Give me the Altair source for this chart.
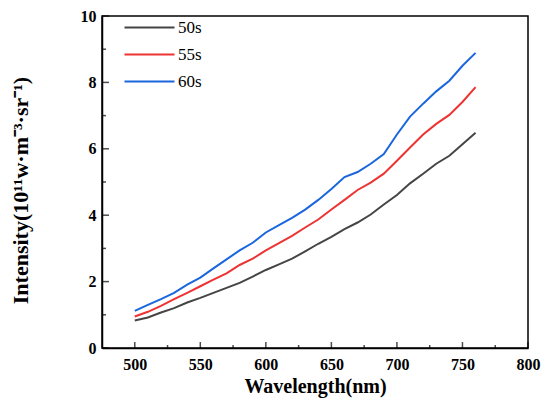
import altair as alt
import pandas as pd

wavelength = [500, 510, 520, 530, 540, 550, 560, 570, 580, 590, 600, 610, 620, 630,
              640, 650, 660, 670, 680, 690, 700, 710, 720, 730, 740, 750, 760]
s50 = [0.83, 0.92, 1.07, 1.20, 1.37, 1.51, 1.66, 1.81, 1.96, 2.15, 2.35, 2.52, 2.69, 2.91,
       3.14, 3.35, 3.58, 3.78, 4.02, 4.32, 4.61, 4.96, 5.25, 5.55, 5.79, 6.14, 6.48]
s55 = [0.95, 1.09, 1.27, 1.47, 1.66, 1.86, 2.06, 2.25, 2.50, 2.69, 2.94, 3.16, 3.38, 3.63,
       3.87, 4.17, 4.46, 4.76, 4.98, 5.25, 5.64, 6.04, 6.43, 6.75, 7.02, 7.41, 7.86]
s60 = [1.12, 1.30, 1.47, 1.66, 1.91, 2.12, 2.40, 2.67, 2.94, 3.17, 3.48, 3.70, 3.92, 4.17,
       4.46, 4.79, 5.15, 5.30, 5.55, 5.84, 6.43, 6.97, 7.36, 7.73, 8.05, 8.50, 8.89]
series_names = ["50s", "55s", "60s"]
series_colors = ["#454545", "#ee3333", "#1a66dd"]

x_domain = [475, 800]
y_domain = [0, 10]
x_major = [500, 550, 600, 650, 700, 750, 800]
x_minor = [525, 575, 625, 675, 725, 775]
y_major = [0, 2, 4, 6, 8, 10]
y_minor = [1, 3, 5, 7, 9]

rows = []
for name, vals in zip(series_names, [s50, s55, s60]):
    for w, v in zip(wavelength, vals):
        rows.append({"wl": w, "val": v, "series": name})
df = pd.DataFrame(rows)

FONT = "Liberation Serif"
W, H = 426, 332
xscale = alt.Scale(domain=x_domain, nice=False, zero=False)
yscale = alt.Scale(domain=y_domain, nice=False)

lines = alt.Chart(df).mark_line(strokeWidth=2).encode(
    x=alt.X("wl:Q", scale=xscale, axis=alt.Axis(
        values=x_major, format="d", orient="bottom", labelFlush=False,
        labelFont=FONT, labelFontSize=16, labelFontWeight="bold", labelColor="black",
        labelPadding=8, ticks=False, tickSize=0, grid=False,
        domain=True, domainColor="black", domainWidth=1.5,
        title="Wavelength(nm)", titleFont=FONT, titleFontSize=20, titleFontWeight="bold",
        titleColor="black", titleY=38, titleBaseline="middle")),
    y=alt.Y("val:Q", scale=yscale, axis=alt.Axis(
        values=y_major, format="d", orient="left",
        labelFont=FONT, labelFontSize=16, labelFontWeight="bold", labelColor="black",
        labelPadding=6, ticks=False, tickSize=0, grid=False,
        domain=True, domainColor="black", domainWidth=1.5,
        title="Intensity(10¹¹w·m⁻³·sr⁻¹)", titleFont=FONT, titleFontSize=22,
        titleFontWeight="bold", titleColor="black", titleX=-82, titleY=174,
        titleAlign="center", titleBaseline="middle", titleAngle=270)),
    color=alt.Color("series:N", scale=alt.Scale(domain=series_names, range=series_colors),
                    legend=alt.Legend(title=None, orient="none", legendX=39, legendY=3,
                                      symbolType="M-5,0H5", symbolSize=100,
                                      symbolStrokeWidth=2, labelFont=FONT,
                                      labelFontSize=17, labelColor="black",
                                      labelOffset=20, rowPadding=9, padding=0)),
)


# inward ticks on the bottom axis
def xticks(vals, length):
    d = pd.DataFrame({"wl": vals, "val": [y_domain[0]] * len(vals)})
    return alt.Chart(d).mark_tick(color="black", thickness=1.5, size=length,
                                  orient="vertical", yOffset=-length / 2).encode(
        x="wl:Q", y="val:Q")


# inward ticks on the left axis
def yticks(vals, length):
    d = pd.DataFrame({"val": vals, "wl": [x_domain[0]] * len(vals)})
    return alt.Chart(d).mark_tick(color="black", thickness=1.5, size=length,
                                  orient="horizontal", xOffset=length / 2).encode(
        x="wl:Q", y="val:Q")


chart = alt.layer(
    lines,
    xticks(x_major, 6), xticks(x_minor, 3),
    yticks(y_major, 7), yticks(y_minor, 4),
).properties(
    width=W, height=H,
    autosize=alt.AutoSizeParams(type="none"),
    padding={"left": 94, "top": 8, "right": 14, "bottom": 51},
).configure_view(stroke="black", strokeWidth=1.5)

chart.save("out.html", embed_options={"renderer": "svg", "actions": False})
